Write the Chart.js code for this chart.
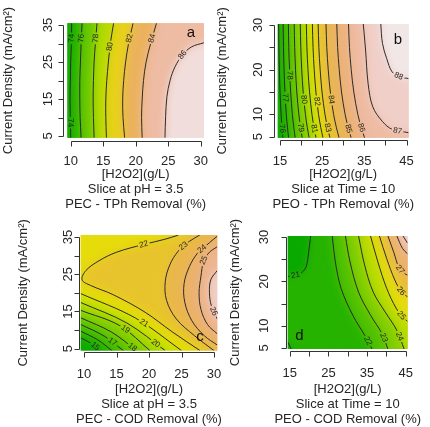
<!doctype html>
<html>

<head>
    <meta charset="utf-8" />
    <meta name="viewport" content="width=device-width, initial-scale=1" />
    <style>
        html,
        body {
            margin: 0px;
            padding: 0px;
            background-color: #ffffff;
        }

        .board {
            position: relative;
            width: 430px;
            height: 427px;
            overflow: hidden;
        }

        .board canvas {
            position: absolute;
            left: 0px;
            top: 0px;
        }
    </style>
    <title>Response surface slices</title>
</head>

<body>
    <div class="board">
        <canvas id="chart_a" width="430" height="427"></canvas>
        <canvas id="chart_b" width="430" height="427"></canvas>
        <canvas id="chart_c" width="430" height="427"></canvas>
        <canvas id="chart_d" width="430" height="427"></canvas>
    </div>

    <script src="https://cdn.jsdelivr.net/npm/chart.js"></script>

    <script>
        // ---------- panel a : PEC - TPh removal, slice at pH = 3.5 ----------
        const aLevels = [74, 76, 78, 80, 82, 84, 86];
        const aRows = [35.5, 30, 25, 20, 15, 10, 4.5];
        const aX = [
            [10.15, 10.1, 10.0, 9.95, 9.9, 9.95, 10.0],
            [11.75, 11.6, 11.5, 11.4, 11.4, 11.45, 11.6],
            [14.05, 13.8, 13.6, 13.5, 13.45, 13.5, 13.6],
            [16.6, 16.1, 15.8, 15.55, 15.4, 15.4, 15.5],
            [19.6, 18.9, 18.45, 18.15, 18.0, 18.05, 18.3],
            [23.2, 22.3, 21.6, 21.2, 21.0, 20.9, 21.0],
            [30.5, 28.6, 27.2, 26.05, 25.3, 24.8, 24.6, 24.5]
        ];
        const aY = [aRows, aRows, aRows, aRows, aRows, aRows, [30.2, 29.1, 26.9, 23.7, 20.1, 15.6, 10.2, 4.5]];
        const aClose = ['br tr', 'br tr', 'br tr', 'br tr', 'br tr', 'br tr', 'br'];
        const aLow = [];
        const aLabels = [[0, 10.1, 31.4], [0, 9.95, 8.4], [1, 11.6, 31.4], [2, 13.9, 31.4], [3, 16.2, 29.1], [4, 19.3, 31.4], [5, 22.7, 31.4], [6, 27.2, 26.9]];
        const aRange = [73.3, 87.2];
        const aBase = 73.65;

        // ---------- panel b : PEO - TPh removal, slice at time = 10 ----------
        const bLevels = [76, 77, 78, 79, 80, 81, 82, 83, 84, 85, 86, 87, 88];
        const bRows = [30.25, 25, 20, 15, 10, 7, 4.75];
        const bX = [
            [14.7, 14.76, 14.87, 15.03, 15.28, 15.5, 15.7],
            [15.76, 15.84, 15.98, 16.19, 16.51, 16.8, 17.06],
            [17.0, 17.1, 17.28, 17.54, 17.95, 18.3, 18.62],
            [18.38, 18.5, 18.7, 19.0, 19.48, 19.9, 20.28],
            [19.82, 19.95, 20.17, 20.51, 21.04, 21.5, 21.92],
            [21.26, 21.4, 21.65, 22.02, 22.59, 23.1, 23.56],
            [22.7, 22.85, 23.13, 23.53, 24.15, 24.7, 25.2],
            [24.06, 24.23, 24.54, 24.98, 25.68, 26.3, 26.86],
            [25.92, 26.11, 26.45, 26.95, 27.72, 28.4, 29.02],
            [28.48, 28.68, 29.06, 29.6, 30.45, 31.2, 31.88],
            [31.26, 31.48, 31.9, 32.51, 33.46, 34.3, 35.06],
            [34.75, 35.3, 35.9, 37.0, 39.3, 41.6, 45.5],
            [38.9, 39.3, 40.3, 41.6, 43.5, 45.5]
        ];
        const bY = [bRows, bRows, bRows, bRows, bRows, bRows, bRows, bRows, bRows, bRows, bRows,
            [30.25, 24.4, 16.9, 11.7, 8.4, 6.65, 5.9],
            [30.25, 25.9, 22.5, 19.5, 18.4, 18.0]];
        const bClose = ['br tr', 'br tr', 'br tr', 'br tr', 'br tr', 'br tr', 'br tr', 'br tr', 'br tr', 'br tr', 'br tr', 'tr', 'tr'];
        const bLow = [];
        const bLabels = [[0, 15.6, 6.9], [1, 16.4, 13.9], [2, 17.05, 18.8], [3, 19.8, 6.9], [4, 20.5, 13.2], [5, 23.2, 6.9], [6, 24.1, 13.0],
            [7, 26.3, 6.9], [8, 27.1, 13.2], [9, 31.3, 6.9], [10, 34.3, 6.9], [11, 42.7, 6.1], [12, 43.1, 18.4]];
        const bRange = [75.3, 88.6];
        const bBase = 75.7;

        // ---------- panel c : PEC - COD removal, slice at pH = 3.5 ----------
        const cLevels = [15, 16, 17, 18, 19, 20, 21, 22, 23, 24, 25, 26];
        const cX = [
            [9.5, 11.15, 12.5],
            [9.5, 12.1, 14.3],
            [9.5, 13.1, 16.05],
            [9.5, 14.2, 18.1],
            [9.5, 15.5, 20.15],
            [9.5, 16.6, 22.5],
            [9.5, 17.95, 25.0],
            [27.85, 23.6, 19.4, 14.5, 11.0, 9.7, 10.3, 12.3, 15.0, 19.2, 22.5, 24.5],
            [30.0, 27.0, 24.2, 22.7, 22.5, 23.2, 24.5, 26.2, 27.8],
            [30.5, 28.5, 26.6, 25.5, 25.4, 26.2, 27.4, 28.6, 30.0, 30.5],
            [30.5, 29.0, 28.0, 27.7, 28.0, 28.4, 29.3, 30.5],
            [30.5, 29.6, 29.3, 29.5, 30.5]
        ];
        const cY = [
            [7.9, 6.4, 4.5],
            [9.7, 7.4, 4.5],
            [11.5, 8.4, 4.5],
            [13.3, 9.5, 4.5],
            [15.3, 11.2, 4.5],
            [17.4, 11.9, 4.5],
            [19.8, 13.2, 4.5],
            [4.5, 9.5, 14.8, 19.5, 22.0, 23.5, 26, 28.6, 30.9, 33.0, 34.4, 35.5],
            [4.5, 8.5, 13, 18, 23, 27.5, 31.2, 33.8, 35.5],
            [6.0, 8.5, 12.5, 17.5, 22.5, 27, 30.5, 32.4, 34.5, 35.2],
            [9.0, 11.5, 15.5, 20, 24.5, 28.5, 30.9, 32.4],
            [13.0, 16.5, 20, 23.5, 26.0]
        ];
        const cClose = ['br tr tl', 'br tr tl', 'br tr tl', 'br tr tl', 'br tr tl', 'br tr tl', 'br tr tl', 'tr br', 'tr br', '', '', ''];
        const cLow = [];
        const cLabels = [[0, 11.95, 6.1], [2, 14.5, 7.25], [3, 17.6, 5.9], [4, 16.5, 11.3], [5, 20.9, 6.8], [6, 19.2, 12.6],
            [7, 19.2, 33.0], [8, 25.0, 33.2], [9, 28.1, 32.1], [10, 27.6, 29.2], [11, 29.9, 14.9]];
        const cRange = [14.0, 28.3];
        const cBase = 14.5;

        // ---------- panel d : PEO - COD removal, slice at time = 10 ----------
        const dLevels = [21, 21, 22, 23, 24, 25, 26, 27, 28, 29];
        const dX = [
            [20.4, 19.9, 19.2, 17.7, 16.5, 14.5],
            [14.5, 15.4],
            [26.0, 26.8, 28.3, 31.3, 34.4, 36.3],
            [29.4, 30.6, 32.8, 35.9, 38.9, 40.4],
            [32.8, 34.4, 36.6, 39.7, 42.7, 44.6],
            [35.9, 37.8, 40.1, 42.5, 44.2, 45.5],
            [38.2, 40.1, 42.2, 43.8, 45.5],
            [40.4, 41.9, 43.3, 44.5, 45.5],
            [42.7, 44.2, 45.5],
            [44.3, 45.5]
        ];
        const dY = [
            [30.25, 26.6, 23.2, 21.7, 21.4, 21.1],
            [6.3, 4.75],
            [30.25, 24.4, 18.4, 12.4, 7.85, 4.75],
            [30.25, 24.4, 17.6, 12.4, 8.2, 4.75],
            [30.25, 23.6, 17.6, 13.1, 9.0, 4.75],
            [30.25, 24.4, 18.4, 14.0, 12.0, 11.0],
            [30.25, 25.1, 20.3, 17.8, 16.5],
            [30.25, 26.6, 23.0, 21.9, 21.4],
            [30.25, 27.4, 26.2],
            [30.25, 28.6]
        ];
        const dClose = ['tl', 'bl', 'br tr', 'br tr', 'br tr', 'tr', 'tr', 'tr', 'tr', 'tr'];
        const dLow = [0, 1];
        const dLabels = [[0, 16.5, 21.4], [2, 35.5, 6.7], [3, 39.5, 7.3], [4, 43.5, 7.5], [5, 43.5, 12.0], [6, 43.5, 17.6], [7, 43.3, 22.5]];
        const dRange = [20.5, 30.0];
        const dBase = 21.5;

        // ---------- axes ----------
        const pecXTicks = [10, 15, 20, 25, 30];
        const pecXLabels = [10, 15, 20, 25, 30];
        const pecYTicks = [5, 10, 15, 20, 25, 30, 35];
        const pecYLabels = [5, 15, 25, 35];
        const peoXTicks = [15, 20, 25, 30, 35, 40, 45];
        const peoXLabels = [15, 25, 35, 45];
        const peoYTicks = [5, 10, 15, 20, 25, 30];
        const peoYLabels = [5, 10, 20, 30];

        const aTitle = ['[H2O2](g/L)', 'Slice at pH = 3.5', 'PEC - TPh Removal (%)'];
        const bTitle = ['[H2O2](g/L)', 'Slice at Time = 10', 'PEO - TPh Removal (%)'];
        const cTitle = ['[H2O2](g/L)', 'Slice at pH = 3.5', 'PEC - COD Removal (%)'];
        const dTitle = ['[H2O2](g/L)', 'Slice at Time = 10', 'PEO - COD Removal (%)'];
        const yTitle = 'Current Density (mA/cm²)';

        const TEXT = '#262626';
        const LINE = '#2b2b2b';
        const FONT = '"Liberation Sans", Arial, Helvetica, sans-serif';
        const EXT = 16;

        Chart.defaults.font.family = FONT;
        Chart.defaults.color = TEXT;

        function hsv(h, s, v) {
            const i = Math.floor(h * 6 + 1e-9), f = h * 6 - i;
            const p = v * (1 - s), q = v * (1 - f * s), t = v * (1 - (1 - f) * s);
            const rgb = [[v, t, p], [q, v, p], [p, v, t], [p, q, v], [t, p, v], [v, p, q]][((i % 6) + 6) % 6];
            return 'rgb(' + rgb.map(c => Math.round(c * 255)).join(',') + ')';
        }

        // same ramp as R terrain.colors
        function terrain(t) {
            t = Math.min(1, Math.max(0, t));
            if (t <= 0.5) {
                const u = t / 0.5;
                return hsv(4 / 12 - 2 / 12 * u, 1, 0.65 + 0.25 * u);
            }
            const u = (t - 0.5) / 0.5;
            return hsv(2 / 12 * (1 - u), 1 - u, 0.9 + 0.05 * u);
        }

        function edgeOut(pt, a) {
            if (Math.abs(pt.x - a.left) < 1) return [a.left - EXT, pt.y];
            if (Math.abs(pt.x - a.right) < 1) return [a.right + EXT, pt.y];
            if (Math.abs(pt.y - a.top) < 1) return [pt.x, a.top - EXT];
            if (Math.abs(pt.y - a.bottom) < 1) return [pt.x, a.bottom + EXT];
            return [pt.x, pt.y];
        }

        function cornerOut(k, a) {
            return {
                tl: [a.left - EXT, a.top - EXT], tr: [a.right + EXT, a.top - EXT],
                br: [a.right + EXT, a.bottom + EXT], bl: [a.left - EXT, a.bottom + EXT]
            }[k];
        }

        function tracePoints(ctx, pts) {
            for (let i = 1; i < pts.length; i++) {
                const p = pts[i - 1], q = pts[i];
                if (p.cp2x !== undefined && q.cp1x !== undefined) {
                    ctx.bezierCurveTo(p.cp2x, p.cp2y, q.cp1x, q.cp1y, q.x, q.y);
                } else {
                    ctx.lineTo(q.x, q.y);
                }
            }
        }

        function samplePoints(pts) {
            const out = [{ x: pts[0].x, y: pts[0].y }];
            for (let i = 1; i < pts.length; i++) {
                const p = pts[i - 1], q = pts[i];
                const c1x = p.cp2x !== undefined ? p.cp2x : p.x, c1y = p.cp2y !== undefined ? p.cp2y : p.y;
                const c2x = q.cp1x !== undefined ? q.cp1x : q.x, c2y = q.cp1y !== undefined ? q.cp1y : q.y;
                for (let k = 1; k <= 12; k++) {
                    const t = k / 12, m = 1 - t;
                    out.push({
                        x: m * m * m * p.x + 3 * m * m * t * c1x + 3 * m * t * t * c2x + t * t * t * q.x,
                        y: m * m * m * p.y + 3 * m * m * t * c1y + 3 * m * t * t * c2y + t * t * t * q.y
                    });
                }
            }
            return out;
        }

        function contourPlugin(p, box) {
            let placed = [];
            let clipped = -1;
            const uniq = [...new Set(p.levels)].sort((u, v) => u - v);
            const colourOf = z => terrain((z - p.range[0]) / (p.range[1] - p.range[0]));
            const bandOf = i => {
                const L = p.levels[i], k = uniq.indexOf(L);
                if (p.low.includes(i)) return colourOf(((k > 0 ? uniq[k - 1] : p.range[0]) + L) / 2);
                return colourOf((L + (k < uniq.length - 1 ? uniq[k + 1] : p.range[1])) / 2);
            };

            return {
                id: 'contours',
                beforeDatasetsDraw(chart) {
                    const a = chart.chartArea, ctx = chart.ctx;
                    const off = document.createElement('canvas');
                    off.width = chart.canvas.width;
                    off.height = chart.canvas.height;
                    const oc = off.getContext('2d');
                    const r = chart.currentDevicePixelRatio || 1;
                    oc.setTransform(r, 0, 0, r, 0, 0);
                    oc.fillStyle = colourOf(p.base);
                    oc.fillRect(a.left - 40, a.top - 40, a.width + 80, a.height + 80);

                    const key = i => (p.low.includes(i) ? -1e6 : 0) + p.levels[i];
                    const order = p.levels.map((_, i) => i).sort((i, j) => key(i) - key(j));
                    order.forEach(i => {
                        const meta = chart.getDatasetMeta(i);
                        if (meta.dataset && meta.dataset.updateControlPoints) meta.dataset.updateControlPoints(a, 'x');
                        const pts = meta.data;
                        const s = edgeOut(pts[0], a), e = edgeOut(pts[pts.length - 1], a);
                        oc.beginPath();
                        oc.moveTo(s[0], s[1]);
                        oc.lineTo(pts[0].x, pts[0].y);
                        tracePoints(oc, pts);
                        oc.lineTo(e[0], e[1]);
                        p.close[i].split(' ').filter(Boolean).forEach(k => {
                            const c = cornerOut(k, a);
                            oc.lineTo(c[0], c[1]);
                        });
                        oc.closePath();
                        oc.fillStyle = bandOf(i);
                        oc.fill();
                    });

                    ctx.save();
                    ctx.beginPath();
                    ctx.rect(a.left, a.top, a.width, a.height);
                    ctx.clip();
                    ctx.drawImage(off, 0, 0, chart.width, chart.height);
                    ctx.filter = 'blur(4px)';
                    ctx.drawImage(off, 0, 0, chart.width, chart.height);
                    ctx.restore();

                    // where the level numbers sit on their lines
                    const xs = chart.scales.x, ys = chart.scales.y;
                    placed = p.labels.map(([i, lx, ly]) => {
                        const smp = samplePoints(chart.getDatasetMeta(i).data);
                        const tx = xs.getPixelForValue(lx), ty = ys.getPixelForValue(ly);
                        let best = 0, bd = Infinity;
                        smp.forEach((q, k) => {
                            const d = (q.x - tx) * (q.x - tx) + (q.y - ty) * (q.y - ty);
                            if (d < bd) { bd = d; best = k; }
                        });
                        const q0 = smp[Math.max(0, best - 3)], q1 = smp[Math.min(smp.length - 1, best + 3)];
                        let ang = Math.atan2(q1.y - q0.y, q1.x - q0.x);
                        if (ang > Math.PI / 2) ang -= Math.PI;
                        if (ang <= -Math.PI / 2) ang += Math.PI;
                        return { i: i, x: smp[best].x, y: smp[best].y, ang: ang, text: String(p.levels[i]) };
                    });
                },
                beforeDatasetDraw(chart, args) {
                    const labs = placed.filter(l => l.i === args.index);
                    if (!labs.length) return;
                    const ctx = chart.ctx;
                    ctx.save();
                    ctx.font = '8px ' + FONT;
                    ctx.beginPath();
                    ctx.rect(0, 0, chart.width, chart.height);
                    labs.forEach(l => {
                        const hw = ctx.measureText(l.text).width / 2 + 1.5, hh = 4.5;
                        const c = Math.cos(l.ang), s = Math.sin(l.ang);
                        const cs = [[-hw, -hh], [hw, -hh], [hw, hh], [-hw, hh]].map(([u, v]) => [l.x + u * c - v * s, l.y + u * s + v * c]);
                        ctx.moveTo(cs[0][0], cs[0][1]);
                        cs.slice(1).forEach(q => ctx.lineTo(q[0], q[1]));
                        ctx.closePath();
                    });
                    ctx.clip('evenodd');
                    clipped = args.index;
                },
                afterDatasetDraw(chart, args) {
                    if (clipped === args.index) {
                        chart.ctx.restore();
                        clipped = -1;
                    }
                },
                afterDatasetsDraw(chart) {
                    const ctx = chart.ctx;
                    ctx.save();
                    ctx.fillStyle = TEXT;
                    ctx.font = '8px ' + FONT;
                    ctx.textAlign = 'center';
                    ctx.textBaseline = 'middle';
                    placed.forEach(l => {
                        ctx.save();
                        ctx.translate(l.x, l.y);
                        ctx.rotate(l.ang);
                        ctx.fillText(l.text, 0, 0);
                        ctx.restore();
                    });
                    ctx.fillStyle = '#111111';
                    ctx.font = '15px ' + FONT;
                    ctx.fillText(p.letter[0], chart.scales.x.getPixelForValue(p.letter[1]), chart.scales.y.getPixelForValue(p.letter[2]));
                    ctx.restore();
                },
                afterDraw(chart) {
                    const ctx = chart.ctx, x = chart.scales.x, y = chart.scales.y, a = chart.chartArea;
                    const px = v => Math.round(x.getPixelForValue(v)) + 0.5;
                    const py = v => Math.round(y.getPixelForValue(v)) + 0.5;
                    const ax = Math.round(box.axisX) + 0.5, ay = Math.round(box.axisY) + 0.5;
                    ctx.save();
                    ctx.strokeStyle = '#333333';
                    ctx.lineWidth = 1;
                    ctx.beginPath();
                    ctx.moveTo(px(p.xTicks[0]), ay);
                    ctx.lineTo(px(p.xTicks[p.xTicks.length - 1]), ay);
                    p.xTicks.forEach(v => { ctx.moveTo(px(v), ay); ctx.lineTo(px(v), ay + 5); });
                    ctx.moveTo(ax, py(p.yTicks[0]));
                    ctx.lineTo(ax, py(p.yTicks[p.yTicks.length - 1]));
                    p.yTicks.forEach(v => { ctx.moveTo(ax, py(v)); ctx.lineTo(ax - 5, py(v)); });
                    ctx.stroke();
                    ctx.fillStyle = TEXT;
                    ctx.font = '13px ' + FONT;
                    ctx.textAlign = 'center';
                    ctx.textBaseline = 'middle';
                    p.yLabels.forEach(v => {
                        ctx.save();
                        ctx.translate(box.yLabelX, y.getPixelForValue(v));
                        ctx.rotate(-Math.PI / 2);
                        ctx.fillText(String(v), 0, 0);
                        ctx.restore();
                    });
                    // x title, three lines, not squeezed to the plot width
                    const cx = (a.left + a.right) / 2;
                    p.title.forEach((t, k) => {
                        ctx.fillText(t, cx, box.xBottom - 7.5 - (p.title.length - 1 - k) * 15);
                    });
                    ctx.restore();
                }
            };
        }

        function panel(id, p, box) {
            const datasets = p.xs.map((xs, i) => ({
                data: xs.map((x, j) => ({ x: x, y: p.ys[i][j] })),
                showLine: true,
                borderColor: LINE,
                borderWidth: 1,
                pointRadius: 0,
                tension: 0.35,
                fill: false
            }));
            return new Chart(document.getElementById(id), {
                type: 'scatter',
                data: { datasets: datasets },
                options: {
                    responsive: false,
                    animation: false,
                    events: [],
                    layout: { padding: { left: box.titleLeft, top: box.T, right: 430 - box.R, bottom: 427 - box.xBottom } },
                    plugins: {
                        legend: { display: false },
                        tooltip: { enabled: false }
                    },
                    scales: {
                        x: {
                            min: box.xMin,
                            max: box.xMax,
                            afterBuildTicks: s => { s.ticks = p.xTicks.map(v => ({ value: v })); },
                            afterFit: s => { s.height = box.xBottom - box.B; },
                            grid: { display: false, drawTicks: false },
                            border: { display: false },
                            ticks: {
                                autoSkip: false, maxRotation: 0, minRotation: 0, padding: box.tickPad,
                                color: TEXT, font: { size: 13 },
                                callback: v => p.xLabels.includes(v) ? String(v) : ''
                            },
                            title: { display: false }
                        },
                        y: {
                            min: box.yMin,
                            max: box.yMax,
                            afterBuildTicks: s => { s.ticks = p.yTicks.map(v => ({ value: v })); },
                            afterFit: s => { s.width = box.L - box.titleLeft; },
                            grid: { display: false, drawTicks: false },
                            border: { display: false },
                            ticks: { display: false },
                            title: { display: true, text: yTitle, color: TEXT, font: { size: 13, lineHeight: 15 / 13 }, padding: 0 }
                        }
                    }
                },
                plugins: [contourPlugin(p, box)]
            });
        }

        panel('chart_a', {
            levels: aLevels, xs: aX, ys: aY, close: aClose, low: aLow, labels: aLabels, range: aRange, base: aBase,
            xTicks: pecXTicks, xLabels: pecXLabels, yTicks: pecYTicks, yLabels: pecYLabels, title: aTitle, letter: ['a', 28.5, 32.8]
        }, { xMin: 9.5, xMax: 30.5, yMin: 4.5, yMax: 35.5, L: 67.45, R: 203.95, T: 23.15, B: 137.85, titleLeft: 1, xBottom: 211.5, tickPad: 16, axisX: 62.7, axisY: 140.5, yLabelX: 48.3 });

        panel('chart_b', {
            levels: bLevels, xs: bX, ys: bY, close: bClose, low: bLow, labels: bLabels, range: bRange, base: bBase,
            xTicks: peoXTicks, xLabels: peoXLabels, yTicks: peoYTicks, yLabels: peoYLabels, title: bTitle, letter: ['b', 42.95, 26.6]
        }, { xMin: 14.5, xMax: 45.5, yMin: 4.75, yMax: 30.25, L: 277.8, R: 413.9, T: 23.9, B: 137.8, titleLeft: 214.5, xBottom: 211.5, tickPad: 16, axisX: 273.7, axisY: 140.3, yLabelX: 258 });

        panel('chart_c', {
            levels: cLevels, xs: cX, ys: cY, close: cClose, low: cLow, labels: cLabels, range: cRange, base: cBase,
            xTicks: pecXTicks, xLabels: pecXLabels, yTicks: pecYTicks, yLabels: pecYLabels, title: cTitle, letter: ['c', 27.85, 8.15]
        }, { xMin: 9.5, xMax: 30.5, yMin: 4.5, yMax: 35.5, L: 80.75, R: 217.25, T: 235.1, B: 350.6, titleLeft: 15.5, xBottom: 426.8, tickPad: 16.3, axisX: 79.3, axisY: 352.1, yLabelX: 68 });

        panel('chart_d', {
            levels: dLevels, xs: dX, ys: dY, close: dClose, low: dLow, labels: dLabels, range: dRange, base: dBase,
            xTicks: peoXTicks, xLabels: peoXLabels, yTicks: peoYTicks, yLabels: peoYLabels, title: dTitle, letter: ['d', 17.5, 7.7]
        }, { xMin: 14.5, xMax: 45.5, yMin: 4.75, yMax: 30.25, L: 287.8, R: 423.9, T: 235.9, B: 349.1, titleLeft: 227.5, xBottom: 426.8, tickPad: 17, axisX: 285.7, axisY: 351.1, yLabelX: 264 });
    </script>

</body>

</html>
